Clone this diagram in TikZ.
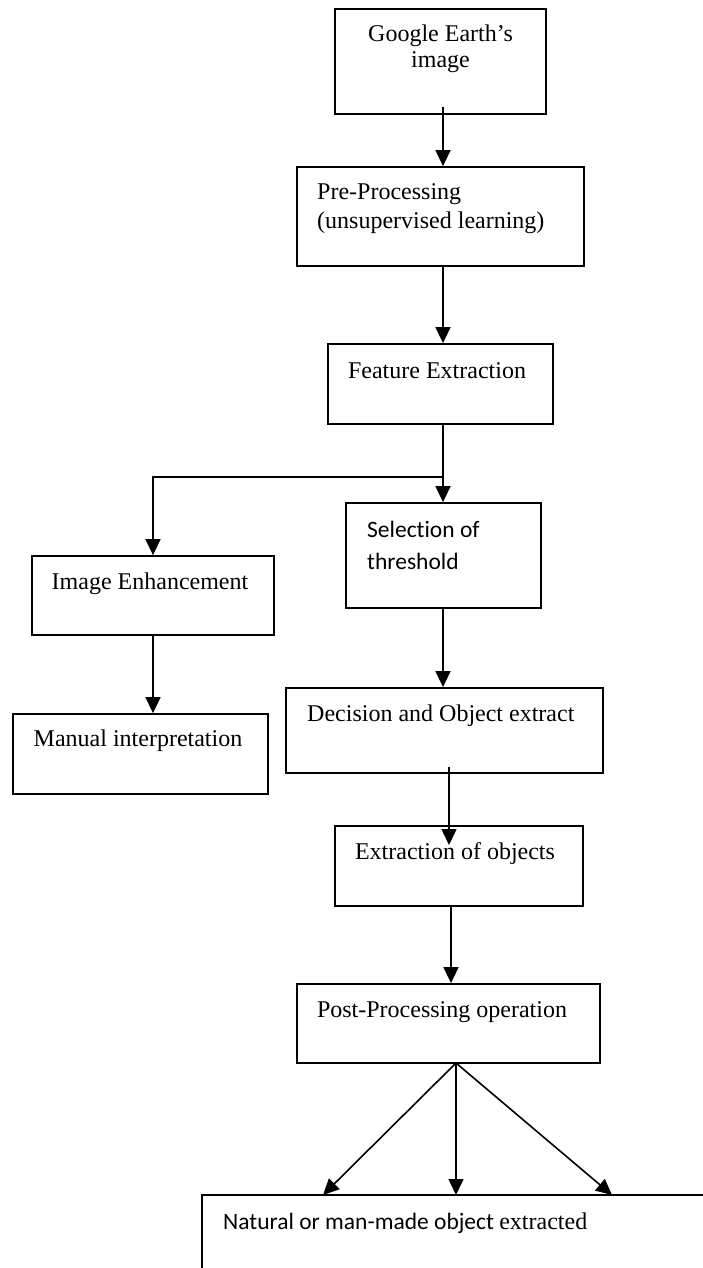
\documentclass[tikz,border=0pt]{standalone}
\usepackage{fontspec}
\setmainfont{Liberation Serif}
\newfontfamily\calfont[Ligatures={NoCommon,NoRequired,NoContextual}]{Carlito}
\usetikzlibrary{arrows.meta}
\tikzset{
  box/.style={draw, line width=1.8pt, rectangle, inner sep=0pt},
  txt/.style={inner sep=0pt, font=\fontsize{24}{28}\selectfont},
  ctxt/.style={inner sep=0pt, font=\calfont\fontsize{23.5}{28}\selectfont},
  arr/.style={line width=1.6pt, -{Triangle[width=15pt,length=16pt]}},
  ln/.style={line width=1.6pt}
}
\begin{document}
\begin{tikzpicture}[x=1pt,y=-1pt]
\useasboundingbox (0,0) rectangle (702,1268);
% boxes
\node[box, minimum width=211pt, minimum height=105pt] (b1) at (440.5,61.5) {};
\node[box, minimum width=287pt, minimum height=99pt] (b2) at (440.5,216.5) {};
\node[box, minimum width=225pt, minimum height=80pt] (b3) at (440.5,384) {};
\node[box, minimum width=195pt, minimum height=105pt] (b4) at (443.5,555.5) {};
\node[box, minimum width=242pt, minimum height=79pt] (b5) at (153,595.5) {};
\node[box, minimum width=255pt, minimum height=80pt] (b6) at (140.5,754) {};
\node[box, minimum width=317pt, minimum height=85pt] (b7) at (444.5,730.5) {};
\node[box, minimum width=248pt, minimum height=80pt] (b8) at (459,866) {};
\node[box, minimum width=303pt, minimum height=79pt] (b9) at (448.5,1023.5) {};
\node[box, minimum width=520pt, minimum height=90pt] (b10) at (462,1240) {};
% texts
\node[txt, anchor=base] (t1a) at (440.5,42) {Google Earth’s};
\node[txt, anchor=base] (t1b) at (440.5,68) {image};
\node[txt, anchor=base west] (t2a) at (317,200) {Pre-Processing};
\node[txt, anchor=base west] (t2b) at (317,228) {(unsupervised learning)};
\node[txt, anchor=base] (t3) at (437,378) {Feature Extraction};
\node[ctxt, anchor=base west] (t4a) at (367,537) {Selec\kern0pt t\kern0pt ion of};
\node[ctxt, anchor=base west] (t4b) at (367,569) {threshold};
\node[txt, anchor=base] (t5) at (150,589) {Image Enhancement};
\node[txt, anchor=base] (t6) at (138,746) {Manual interpretation};
\node[txt, anchor=base west] (t7) at (307,721) {Decision and Object extract};
\node[txt, anchor=base] (t8) at (455,859) {Extraction of objects};
\node[txt, anchor=base] (t9) at (442,1017) {Post-Processing operation};
\node[anchor=base west, inner sep=0pt] (t10) at (223,1229) {{\calfont\fontsize{23.5}{28}\selectfont Natural or man-made object\ }{\fontsize{24}{28}\selectfont extracted}};
% connectors
\coordinate (s1) at (443,107);
\draw[arr] (s1) -- (s1 |- b2.north);
\coordinate (s2) at (443,266);
\draw[arr] (s2) -- (s2 |- b3.north);
\coordinate (s3) at (443,424);
\coordinate (j3) at (443,477);
\coordinate (k3) at (153,477);
\draw[arr] (s3) -- (s3 |- b4.north);
\draw[arr] (j3) -- (k3) -- (k3 |- b5.north);
\coordinate (s4) at (443,608);
\draw[arr] (s4) -- (s4 |- b7.north);
\coordinate (s5) at (153,635);
\draw[arr] (s5) -- (s5 |- b6.north);
\coordinate (s6) at (449,767);
\coordinate (e6) at (449,845);
\draw[arr] (s6) -- (e6);
\coordinate (s7) at (451,906);
\draw[arr] (s7) -- (s7 |- b9.north);
\coordinate (s8) at (456,1063);
\coordinate (e8a) at (323,1195);
\coordinate (e8b) at (456,1195);
\coordinate (e8c) at (612,1195);
\draw[arr] (s8) -- (e8a);
\draw[arr] (s8) -- (e8b);
\draw[arr] (s8) -- (e8c);
\end{tikzpicture}
\end{document}
